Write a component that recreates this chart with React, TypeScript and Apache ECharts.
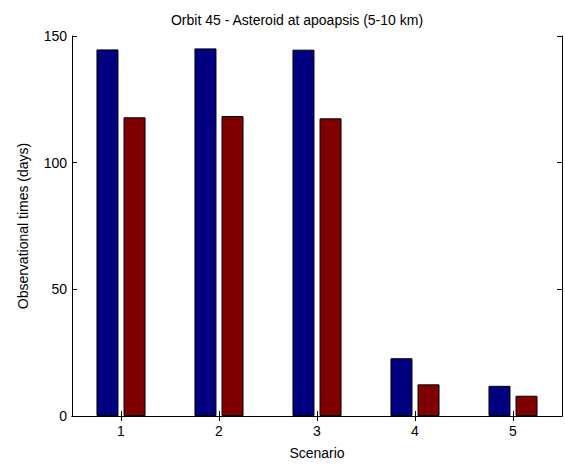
import React, { useEffect, useRef } from "react";
import * as echarts from "echarts";

const categories = ["1", "2", "3", "4", "5"];
const seriesA = [144.7, 145.1, 144.6, 22.8, 11.9];
const seriesB = [117.9, 118.4, 117.5, 12.5, 8.0];
const yTicks = [0, 50, 100, 150];

export default function App() {
  const ref = useRef<HTMLDivElement>(null);
  useEffect(() => {
    const chart = echarts.init(ref.current!, null, { renderer: "svg" });
    const font = "Liberation Sans, Arial, sans-serif";
    const axisLine = { show: true, lineStyle: { color: "#000", width: 1 } };
    const tick = { show: true, inside: true, length: 5, lineStyle: { color: "#000" } };
    chart.setOption({
      animation: false,
      backgroundColor: "#fff",
      textStyle: { fontFamily: font },
      title: {
        text: "Orbit 45 - Asteroid at apoapsis (5-10 km)",
        left: 292,
        top: 8,
        textAlign: "center",
        textStyle: { fontFamily: font, fontSize: 14, fontWeight: "normal", color: "#000" },
      },
      grid: { left: 72, right: 3, top: 36, bottom: 41, containLabel: false },
      xAxis: [
        {
          type: "category",
          data: categories,
          position: "bottom",
          name: "Scenario",
          nameLocation: "middle",
          nameGap: 30,
          nameTextStyle: { fontFamily: font, fontSize: 14, color: "#000" },
          axisLine,
          axisTick: { ...tick, alignWithLabel: true },
          axisLabel: { fontFamily: font, fontSize: 14, color: "#000", margin: 8 },
          splitLine: { show: false },
        },
        {
          type: "category",
          data: categories,
          position: "top",
          axisLine,
          axisTick: { ...tick, alignWithLabel: true },
          axisLabel: { show: false },
          splitLine: { show: false },
        },
      ],
      yAxis: [
        {
          type: "value",
          min: 0,
          max: 150,
          interval: 50,
          position: "left",
          name: "Observational times (days)",
          nameLocation: "middle",
          nameGap: 42,
          nameTextStyle: { fontFamily: font, fontSize: 14, color: "#000" },
          axisLine,
          axisTick: tick,
          axisLabel: {
            fontFamily: font,
            fontSize: 14,
            color: "#000",
            margin: 5,
            formatter: (v: number) => (yTicks.includes(v) ? String(v) : ""),
          },
          splitLine: { show: false },
        },
        {
          type: "value",
          min: 0,
          max: 150,
          interval: 50,
          position: "right",
          axisLine,
          axisTick: tick,
          axisLabel: { show: false },
          splitLine: { show: false },
        },
      ],
      series: [
        {
          type: "bar",
          data: seriesA,
          barWidth: 22,
          barGap: "23%",
          itemStyle: { color: "#000080", borderColor: "#000", borderWidth: 1 },
        },
        {
          type: "bar",
          data: seriesB,
          barWidth: 22,
          barGap: "23%",
          itemStyle: { color: "#800000", borderColor: "#000", borderWidth: 1 },
        },
      ],
    });
    return () => chart.dispose();
  }, []);
  return <div ref={ref} style={{ width: 565, height: 465, position: "absolute", left: 0, top: 0 }} />;
}
